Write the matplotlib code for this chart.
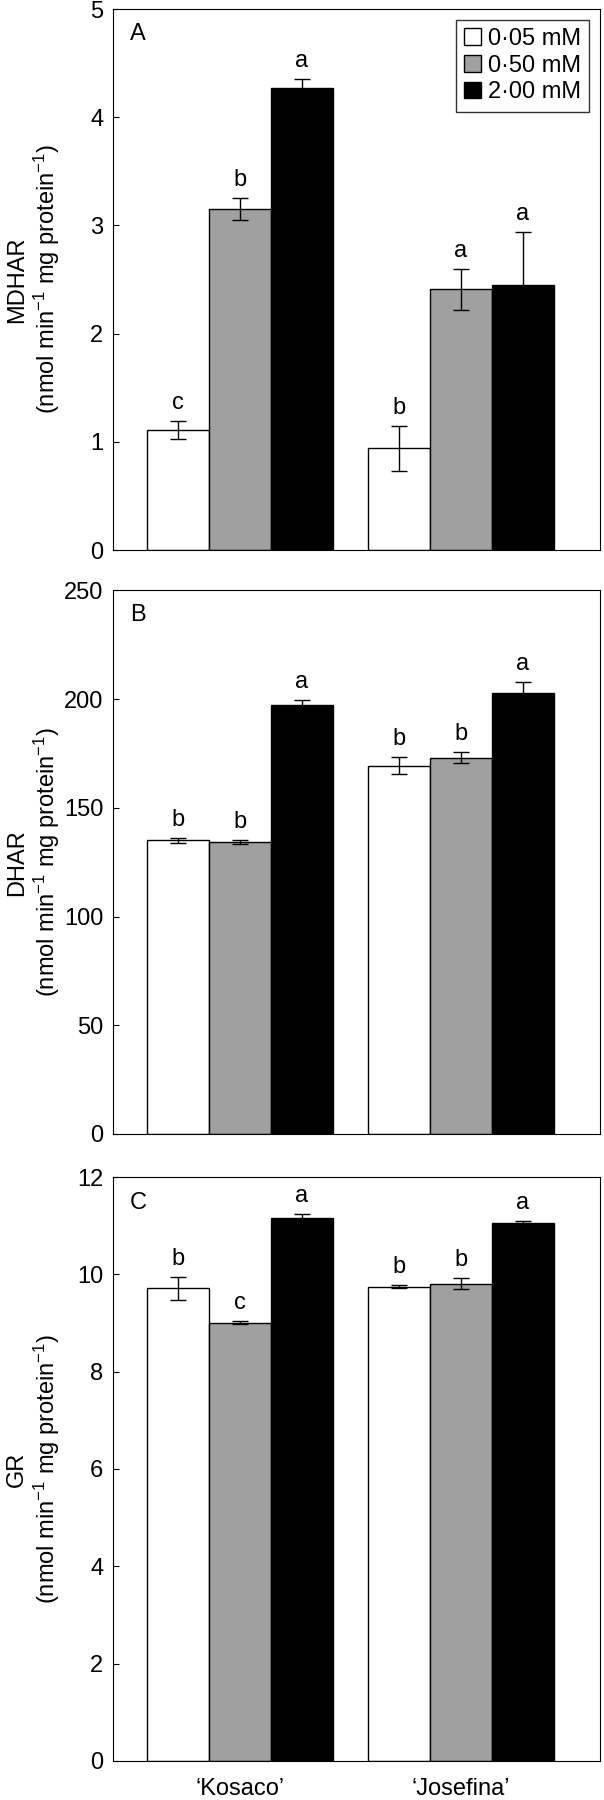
import matplotlib
matplotlib.use("Agg")
import matplotlib.pyplot as plt
import numpy as np

plt.rcParams['font.family'] = ['Liberation Sans', 'DejaVu Sans']
plt.rcParams['mathtext.default'] = 'regular'

cultivars = ['\u2018Kosaco\u2019', '\u2018Josefina\u2019']
treatments = ['0\u00b705 mM', '0\u00b750 mM', '2\u00b700 mM']
colors = ['white', '#a0a0a0', 'black']

# values per treatment: [Kosaco, Josefina]
mdhar = [[1.11, 0.94], [3.15, 2.41], [4.27, 2.45]]
mdhar_err = [[0.08, 0.21], [0.10, 0.19], [0.08, 0.49]]
mdhar_let = [['c', 'b'], ['b', 'a'], ['a', 'a']]

dhar = [[135.0, 169.4], [134.2, 173.1], [197.4, 203.0]]
dhar_err = [[1.0, 3.9], [1.0, 2.5], [2.0, 4.8]]
dhar_let = [['b', 'b'], ['b', 'b'], ['a', 'a']]

gr = [[9.71, 9.75], [9.01, 9.81], [11.15, 11.05]]
gr_err = [[0.23, 0.03], [0.03, 0.11], [0.09, 0.05]]
gr_let = [['b', 'b'], ['c', 'b'], ['a', 'a']]

panels = [
    ('A', 'MDHAR', mdhar, mdhar_err, mdhar_let, 5, np.arange(0, 6, 1)),
    ('B', 'DHAR', dhar, dhar_err, dhar_let, 250, np.arange(0, 251, 50)),
    ('C', 'GR', gr, gr_err, gr_let, 12, np.arange(0, 13, 2)),
]

fs = 17
fig = plt.figure(figsize=(6.04, 18.0), dpi=100)
boxes = [
    [0.187, 0.6944, 0.806, 0.3006],
    [0.187, 0.370, 0.806, 0.302],
    [0.187, 0.0217, 0.806, 0.3244],
]

width = 0.28
x = np.arange(len(cultivars))

for i, (tag, name, vals, errs, lets, ymax, yticks) in enumerate(panels):
    ax = fig.add_axes(boxes[i])
    for j in range(3):
        pos = x + (j - 1) * width
        ax.bar(pos, vals[j], width, color=colors[j], edgecolor='black',
               linewidth=1.0, label=treatments[j], zorder=2)
        ax.errorbar(pos, vals[j], yerr=errs[j], fmt='none', ecolor='black',
                    elinewidth=1.0, capsize=5.5, capthick=1.0, zorder=3)
        for k in range(len(cultivars)):
            ax.annotate(lets[j][k], (pos[k], vals[j][k] + errs[j][k]),
                        xytext=(0, 5), textcoords='offset points',
                        ha='center', va='bottom', fontsize=fs)
    ax.set_xlim(-0.575, 1.629)
    ax.set_ylim(0, ymax)
    ax.set_yticks(yticks)
    ax.tick_params(axis='y', direction='in', length=4.5, labelsize=fs, pad=7)
    ax.tick_params(axis='x', length=0, labelsize=fs, pad=12)
    if i == 2:
        ax.set_xticks(x)
        ax.set_xticklabels(cultivars)
    else:
        ax.set_xticks([])
    ax.set_ylabel(name + '\n(nmol min$^{-1}$ mg protein$^{-1}$)', fontsize=fs,
                  linespacing=1.15)
    ax.yaxis.set_label_coords(-0.105, 0.5)
    ax.text(0.035, 0.975, tag, transform=ax.transAxes, ha='left', va='top',
            fontsize=fs)
    if i == 0:
        leg = ax.legend(loc='upper right', fontsize=fs, frameon=True,
                        fancybox=False, edgecolor='black', handlelength=0.7,
                        handleheight=0.7, handletextpad=0.3, borderpad=0.35,
                        labelspacing=0.2, borderaxespad=0.45)
        leg.get_frame().set_linewidth(1.0)

fig.savefig('out.png', dpi=100)
